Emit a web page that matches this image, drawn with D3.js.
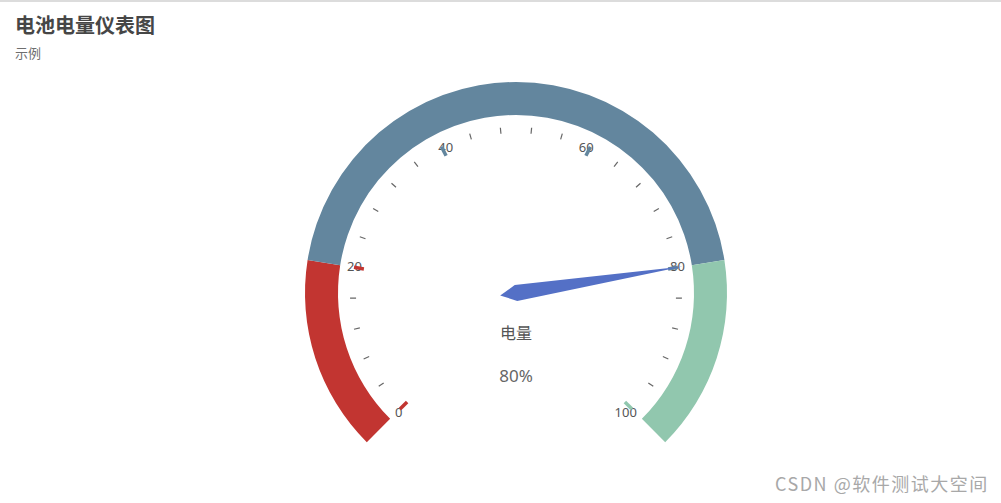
<!DOCTYPE html>
<html>
<head>
<meta charset="utf-8">
<script src="https://cdn.jsdelivr.net/npm/d3@7/dist/d3.min.js"></script>
<style>
  html, body { margin: 0; padding: 0; background: #fff; }
  svg { display: block; font-family: "Noto Sans", "Noto Sans CJK SC", sans-serif; }
</style>
</head>
<body>
<svg id="chart" width="1001" height="503"></svg>
<script>
// ---- data ----
const titleText = "电池电量仪表图";
const subtitleText = "示例";
const gaugeName = "电量";
const gaugeValue = 80;
const axisRange = [0, 100];
const tickLabels = [0, 20, 40, 60, 80, 100];
const segmentStops = [0.2, 0.8, 1];
const segmentColors = ["#c23531", "#63869e", "#91c7ae"];
const minorPerSplit = 5;
const watermark = "CSDN @软件测试大空间";

// ---- layout ----
const W = 1001, H = 503;
const cx = 516, cy = 293;
const outerR = 211, innerR = 178;
const svg = d3.select("#chart");

svg.append("line").attr("x1", 0).attr("x2", W).attr("y1", 1).attr("y2", 1)
  .attr("stroke", "#dcdcdc").attr("stroke-width", 2);

svg.append("text").attr("x", 15).attr("y", 33).text(titleText)
  .attr("font-size", 20).attr("font-weight", "bold").attr("fill", "#464646")
  .attr("font-family", "'Noto Sans CJK SC', sans-serif");
svg.append("text").attr("x", 15).attr("y", 58).text(subtitleText)
  .attr("font-size", 13).attr("fill", "#6e6e6e")
  .attr("font-family", "'Noto Sans CJK SC', sans-serif");

// angle scale (d3 convention: 0 at 12 o'clock, clockwise)
const ang = d3.scaleLinear().domain(axisRange).range([-3 * Math.PI / 4, 3 * Math.PI / 4]);
const frac = d3.scaleLinear().domain([0, 1]).range(axisRange);
const pt = (a, r) => [cx + r * Math.sin(a), cy - r * Math.cos(a)];
const colorAt = v => {
  const f = (v - axisRange[0]) / (axisRange[1] - axisRange[0]);
  for (let i = 0; i < segmentStops.length; i++) if (f <= segmentStops[i] + 1e-9) return segmentColors[i];
  return segmentColors[segmentColors.length - 1];
};

const g = svg.append("g");
const arc = d3.arc().innerRadius(innerR).outerRadius(outerR);
segmentStops.forEach((s, i) => {
  const s0 = i === 0 ? 0 : segmentStops[i - 1];
  g.append("path")
    .attr("d", arc({ startAngle: ang(frac(s0)), endAngle: ang(frac(s)) }))
    .attr("transform", `translate(${cx},${cy})`)
    .attr("fill", segmentColors[i]);
});

// minor ticks
const step = (tickLabels[1] - tickLabels[0]) / minorPerSplit;
d3.range(axisRange[0], axisRange[1] + 1e-9, step).forEach(v => {
  if (tickLabels.includes(Math.round(v))) return;
  const a = ang(v);
  const p1 = pt(a, 160), p2 = pt(a, 166);
  g.append("line").attr("x1", p1[0]).attr("y1", p1[1]).attr("x2", p2[0]).attr("y2", p2[1])
    .attr("stroke", "#666").attr("stroke-width", 1.2);
});

// labels
tickLabels.forEach(v => {
  const a = ang(v);
  const ux = Math.sin(a), uy = -Math.cos(a);
  const p = pt(a, 171);
  const anchor = ux < -0.4 ? "start" : (ux > 0.4 ? "end" : "middle");
  let dy;
  if (uy < -0.4) dy = 11.5;     // top
  else if (uy > 0.4) dy = 3;    // bottom
  else dy = 4.5;                // middle
  g.append("text").attr("x", p[0]).attr("y", p[1] + dy).text(v)
    .attr("text-anchor", anchor).attr("font-size", 13).attr("fill", "#555");
});

// split lines
tickLabels.forEach(v => {
  const a = ang(v);
  const p1 = pt(a, 154), p2 = pt(a, 164);
  g.append("line").attr("x1", p1[0]).attr("y1", p1[1]).attr("x2", p2[0]).attr("y2", p2[1])
    .attr("stroke", colorAt(v)).attr("stroke-width", 3.5);
});

// pointer
const pa = ang(gaugeValue);
const pw = 8, pr = outerR * 0.8;
const dirx = Math.sin(pa), diry = -Math.cos(pa);
const tail = [cx - dirx * pw * 2, cy - diry * pw * 2];
const side1 = [cx + diry * pw, cy - dirx * pw];
const side2 = [cx - diry * pw, cy + dirx * pw];
const tip = [cx + dirx * pr, cy + diry * pr];
g.append("path").attr("d", d3.line()([tail, side1, tip, side2, tail]))
  .attr("fill", "#5470c6");

// detail
g.append("text").attr("x", cx).attr("y", 339).text(gaugeName)
  .attr("text-anchor", "middle").attr("font-size", 16).attr("fill", "#555")
  .attr("font-family", "'Noto Sans CJK SC', sans-serif");
g.append("text").attr("x", cx).attr("y", 382).text(gaugeValue + "%")
  .attr("text-anchor", "middle").attr("font-size", 17).attr("fill", "#666");

// watermark
svg.append("text").attr("x", 775).attr("y", 491).text(watermark)
  .attr("font-size", 18).attr("letter-spacing", 1.5).attr("fill", "#a8a8a8")
  .attr("font-family", "'Noto Sans CJK SC', sans-serif");
</script>
</body>
</html>
